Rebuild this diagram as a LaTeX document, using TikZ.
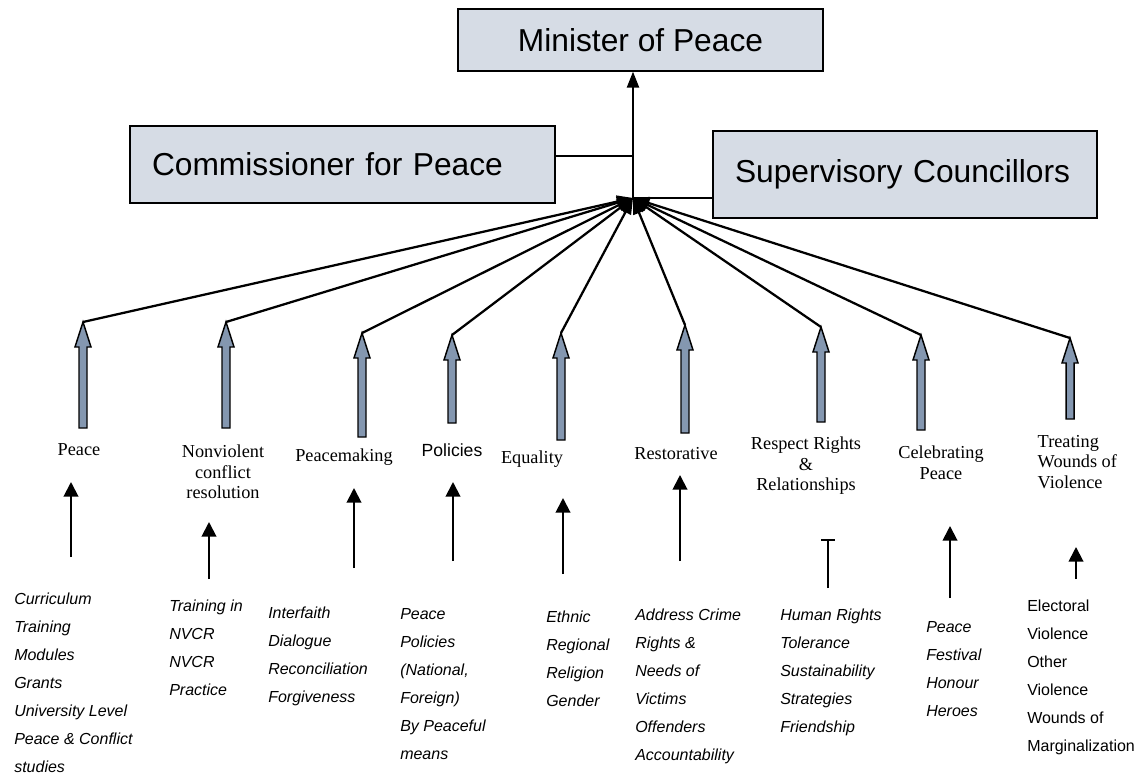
\documentclass[tikz,border=0pt]{standalone}
\usepackage{fontspec}
\setmainfont{Liberation Serif}
\setsansfont{Liberation Sans}
\usetikzlibrary{arrows.meta}
\definecolor{boxfill}{RGB}{214,220,229}
\definecolor{arrowfill}{RGB}{132,151,176}

\begin{document}
\begin{tikzpicture}[x=0.75pt,y=0.75pt,yscale=-1,xscale=1,
  office/.style={draw,line width=1pt,fill=boxfill,font=\sffamily\fontsize{23.8}{28}\selectfont,inner ysep=0pt},
  feed/.style={line width=1.7pt,-{Triangle[length=12pt,width=9pt]}},
  joiner/.style={line width=1pt},
  blockarrow/.style={draw,line width=1.1pt,fill=arrowfill,line join=miter},
  rise/.style={line width=1.5pt,-{Triangle[length=11pt,width=11pt]}},
  cat/.style={font=\fontsize{13.7}{15.4}\selectfont,align=center},
  items/.style={font=\sffamily\itshape\fontsize{12}{21}\selectfont,align=left,anchor=north west,inner sep=0pt}]
\useasboundingbox (0,0) rectangle (1137,775); %set diagram to the reference size

%Shape: Rectangle
\node[office,minimum width=273.75pt,minimum height=46.5pt] (minister) at (640.5,40) {Minister of Peace};
%Shape: Rectangle
\node[office,minimum height=57.75pt,inner xsep=16.5pt,text width=285.75pt,align=left] (commissioner) at (342.5,164.5) {Commissioner for Peace};
%Shape: Rectangle
\node[office,minimum height=65.25pt,inner xsep=16.5pt,text width=255pt,align=left] (supervisory) at (905,174.5) {Supervisory Councillors};

\coordinate (hub) at (633,198);
\coordinate (cjoin) at (633,156);
%Straight Lines
\draw[feed] (hub) -- (hub |- minister.south);
\draw[joiner] (commissioner.east |- cjoin) -- (cjoin);
\draw[joiner] (supervisory.west |- hub) -- (hub);

%Shape: Up Arrow
\coordinate (peaceTip) at (83,322);
\draw[blockarrow] (peaceTip) -- ++(8,25) -- ++(-4,0) -- ++(0,81) -- ++(-8,0) -- ++(0,-81) -- ++(-4,0) -- cycle;
\coordinate (nonviolentTip) at (226,322);
\draw[blockarrow] (nonviolentTip) -- ++(8,25) -- ++(-4,0) -- ++(0,81) -- ++(-8,0) -- ++(0,-81) -- ++(-4,0) -- cycle;
\coordinate (peacemakingTip) at (362,333);
\draw[blockarrow] (peacemakingTip) -- ++(8,25) -- ++(-4,0) -- ++(0,79) -- ++(-8,0) -- ++(0,-79) -- ++(-4,0) -- cycle;
\coordinate (policiesTip) at (452,335);
\draw[blockarrow] (policiesTip) -- ++(8,25) -- ++(-4,0) -- ++(0,63) -- ++(-8,0) -- ++(0,-63) -- ++(-4,0) -- cycle;
\coordinate (equalityTip) at (561,333);
\draw[blockarrow] (equalityTip) -- ++(8,25) -- ++(-4,0) -- ++(0,82) -- ++(-8,0) -- ++(0,-82) -- ++(-4,0) -- cycle;
\coordinate (restorativeTip) at (685,325);
\draw[blockarrow] (restorativeTip) -- ++(8,25) -- ++(-4,0) -- ++(0,83) -- ++(-8,0) -- ++(0,-83) -- ++(-4,0) -- cycle;
\coordinate (respectTip) at (821,327);
\draw[blockarrow] (respectTip) -- ++(8,25) -- ++(-4,0) -- ++(0,70) -- ++(-8,0) -- ++(0,-70) -- ++(-4,0) -- cycle;
\coordinate (celebratingTip) at (921,335);
\draw[blockarrow] (celebratingTip) -- ++(8,25) -- ++(-4,0) -- ++(0,70) -- ++(-8,0) -- ++(0,-70) -- ++(-4,0) -- cycle;
\coordinate (treatingTip) at (1070,338);
\draw[blockarrow] (treatingTip) -- ++(8,25) -- ++(-4,0) -- ++(0,56) -- ++(-8,0) -- ++(0,-56) -- ++(-4,0) -- cycle;

%Straight Lines
\draw[feed] (peaceTip) -- (hub);
\draw[feed] (nonviolentTip) -- (hub);
\draw[feed] (peacemakingTip) -- (hub);
\draw[feed] (policiesTip) -- (hub);
\draw[feed] (equalityTip) -- (hub);
\draw[feed] (restorativeTip) -- (hub);
\draw[feed] (respectTip) -- (hub);
\draw[feed] (celebratingTip) -- (hub);
\draw[feed] (treatingTip) -- (hub);

% Text Node
\node[cat] (peace) at (79,450) {Peace};
% Text Node
\node[cat] (nonviolent) at (223,472) {Nonviolent\\conflict\\resolution};
% Text Node
\node[cat] (peacemaking) at (344,457) {Peacemaking};
% Text Node
\node[cat,font=\sffamily\fontsize{13.2}{15.4}\selectfont] (policies) at (452,450) {Policies};
% Text Node
\node[cat] (equality) at (532,459) {Equality};
% Text Node
\node[cat] (restorative) at (676,454) {Restorative};
% Text Node
\node[cat] (respect) at (806,466) {Respect Rights\\\&\\Relationships};
% Text Node
\node[cat] (celebrating) at (941,463) {Celebrating\\Peace};
% Text Node
\node[cat,align=left,anchor=west] (treating) at (1033,462) {Treating\\Wounds of\\Violence};

%Straight Lines
\coordinate (peaceLow) at (71,557);
\coordinate (peaceHigh) at (71,482);
\draw[rise] (peaceLow) -- (peaceHigh);
\coordinate (nonviolentLow) at (209,579);
\coordinate (nonviolentHigh) at (209,522);
\draw[rise] (nonviolentLow) -- (nonviolentHigh);
\coordinate (peacemakingLow) at (354,568);
\coordinate (peacemakingHigh) at (354,488);
\draw[rise] (peacemakingLow) -- (peacemakingHigh);
\coordinate (policiesLow) at (453,561);
\coordinate (policiesHigh) at (453,482);
\draw[rise] (policiesLow) -- (policiesHigh);
\coordinate (equalityLow) at (563,574);
\coordinate (equalityHigh) at (563,498);
\draw[rise] (equalityLow) -- (equalityHigh);
\coordinate (restorativeLow) at (680,561);
\coordinate (restorativeHigh) at (680,475);
\draw[rise] (restorativeLow) -- (restorativeHigh);
\coordinate (respectLow) at (828,588);
\coordinate (respectHigh) at (828,539);
\draw[line width=1.5pt,-{Bar[width=10.5pt]}] (respectLow) -- (respectHigh);
\coordinate (celebratingLow) at (950,598);
\coordinate (celebratingHigh) at (950,526);
\draw[rise] (celebratingLow) -- (celebratingHigh);
\coordinate (treatingLow) at (1076,579);
\coordinate (treatingHigh) at (1076,547);
\draw[rise] (treatingLow) -- (treatingHigh);

% Text Node
\node[items] (peaceList) at (14,593) {Curriculum\\Training\\Modules\\Grants\\University Level\\Peace \& Conflict\\studies};
% Text Node
\node[items] (nonviolentList) at (169,600) {Training in\\NVCR\\NVCR\\Practice};
% Text Node
\node[items] (peacemakingList) at (268,607) {Interfaith\\Dialogue\\Reconciliation\\Forgiveness};
% Text Node
\node[items] (policiesList) at (400,608) {Peace\\Policies\\(National,\\Foreign)\\By Peaceful\\means};
% Text Node
\node[items] (equalityList) at (546,611) {Ethnic\\Regional\\Religion\\Gender};
% Text Node
\node[items] (restorativeList) at (635,609) {Address Crime\\Rights \&\\Needs of\\Victims\\Offenders\\Accountability};
% Text Node
\node[items] (respectList) at (780,609) {Human Rights\\Tolerance\\Sustainability\\Strategies\\Friendship};
% Text Node
\node[items] (celebratingList) at (926,621) {Peace\\Festival\\Honour\\Heroes};
% Text Node
\node[items,font=\sffamily\fontsize{12}{21}\selectfont] (treatingList) at (1027,600) {Electoral\\Violence\\Other\\Violence\\Wounds of\\Marginalization};

\end{tikzpicture}
\end{document}
